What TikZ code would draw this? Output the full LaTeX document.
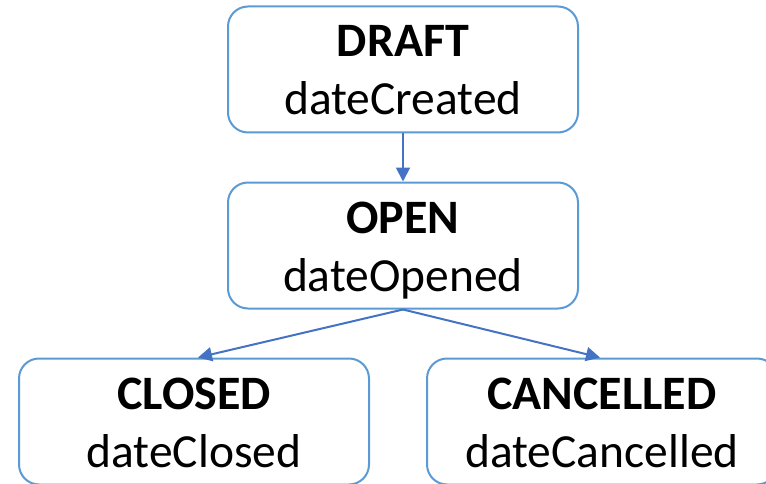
\documentclass[tikz,border=0pt]{standalone}
\usepackage{fontspec}
\setmainfont{Carlito}
\usetikzlibrary{arrows.meta}
\definecolor{boxblue}{RGB}{91,155,213}
\definecolor{arrowblue}{RGB}{68,114,196}
\begin{document}
\begin{tikzpicture}[x=1pt,y=1pt,
 statebox/.style={draw=boxblue, line width=2pt, rounded corners=20pt, minimum width=350pt, minimum height=126pt, inner sep=0pt, fill=white},
 title/.style={anchor=base, font=\fontsize{48}{58}\selectfont\bfseries, inner sep=0pt},
 sub/.style={anchor=base, font=\fontsize{47.5}{58}\selectfont, inner sep=0pt},
 flow/.style={draw=arrowblue, line width=2pt, -{Triangle[length=14pt,width=14pt]}}]
\useasboundingbox (0,0) rectangle (766,483);
\clip (0,0) rectangle (766,483);
\node[statebox] (draft) at (403,413.5) {};
\node[statebox] (open) at (403,237.5) {};
\node[statebox] (closed) at (194,61.5) {};
\node[statebox] (cancelled) at (602,61.5) {};
\node[title] (draftT) at ([yshift=12.5pt]draft.center) {DRAFT};
\node[sub] (draftS) at ([yshift=-45.5pt]draft.center) {dateCreated};
\node[title] (openT) at ([yshift=12.5pt]open.center) {OPEN};
\node[sub] (openS) at ([yshift=-45.5pt]open.center) {dateOpened};
\node[title] (closedT) at ([yshift=12.5pt]closed.center) {CLOSED};
\node[sub] (closedS) at ([yshift=-45.5pt]closed.center) {dateClosed};
\node[title] (cancelledT) at ([yshift=12.5pt]cancelled.center) {CANCELLED};
\node[sub] (cancelledS) at ([yshift=-45.5pt]cancelled.center) {dateCancelled};
\draw[flow] (draft.south) -- (open.north);
\draw[flow] (open.south) -- ([xshift=4pt]closed.north);
\draw[flow] (open.south) -- ([xshift=-2pt]cancelled.north);
\end{tikzpicture}
\end{document}
